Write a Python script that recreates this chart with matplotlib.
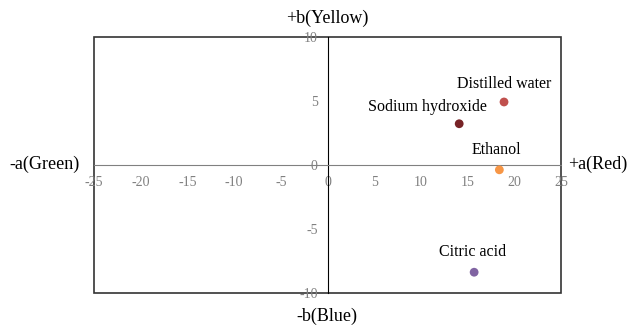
import matplotlib.pyplot as plt
from matplotlib.patches import Rectangle

plt.rcParams['font.family'] = ['Liberation Serif', 'DejaVu Serif']
plt.rcParams['axes.unicode_minus'] = False

# CIE a*/b* values of each solvent
samples = ["Distilled water", "Sodium hydroxide", "Ethanol", "Citric acid"]
a_vals = [18.9, 14.1, 18.4, 15.7]
b_vals = [4.9, 3.2, -0.4, -8.4]
colors = ["#C0504D", "#772326", "#F79646", "#8064A2"]
# label offsets in points (relative to the dot)
offsets = [(0, 13), (-23, 12), (-2, 14), (-1, 14.5)]

xticks = [-25, -20, -15, -10, -5, 0, 5, 10, 15, 20, 25]
yticks = [-10, -5, 0, 5, 10]

fig = plt.figure(figsize=(6.28, 3.25), dpi=100)
ax = fig.add_axes([94 / 628, 1 - 292.7 / 325, 467 / 628, 256 / 325])

ax.scatter(a_vals, b_vals, s=40, c=colors, zorder=3, linewidths=0)
for name, x, y, off in zip(samples, a_vals, b_vals, offsets):
    ax.annotate(name, (x, y), xytext=off, textcoords='offset points',
                ha='center', va='center', fontsize=11.5, color='black')

ax.set_xlim(-25, 25)
ax.set_ylim(-10, 10)
ax.set_xticks(xticks)
ax.set_yticks(yticks)

# axes crossing at the origin
ax.spines['left'].set_position('zero')
ax.spines['bottom'].set_position('zero')
ax.spines['left'].set_color('black')
ax.spines['bottom'].set_color('#808080')
ax.spines['top'].set_visible(False)
ax.spines['right'].set_visible(False)
ax.tick_params(axis='both', length=0, labelsize=10, labelcolor='#808080')
ax.tick_params(axis='x', pad=8)
ax.tick_params(axis='y', pad=7)

# outer frame
ax.add_patch(Rectangle((0, 0), 1, 1, transform=ax.transAxes, fill=False,
                       edgecolor='#333333', linewidth=1.2, clip_on=False))

fig.text(327 / 628, 1 - 18 / 325, "+b(Yellow)", ha='center', va='center', fontsize=13)
fig.text(327 / 628, 1 - 316 / 325, "-b(Blue)", ha='center', va='center', fontsize=13)
fig.text(45 / 628, 1 - 164 / 325, "-a(Green)", ha='center', va='center', fontsize=13)
fig.text(568 / 628, 1 - 164 / 325, "+a(Red)", ha='left', va='center', fontsize=13)

fig.savefig("out.png", dpi=100)
